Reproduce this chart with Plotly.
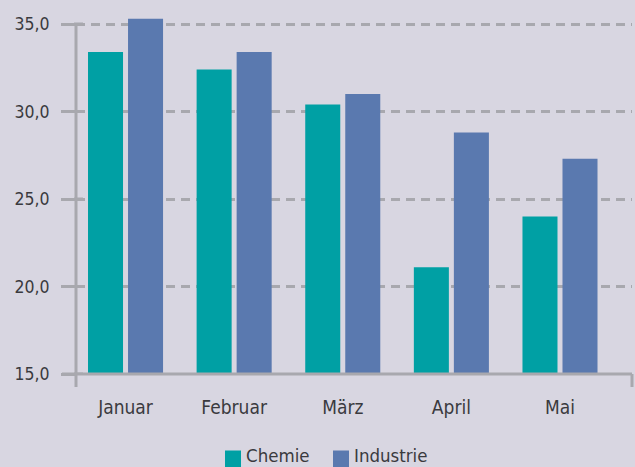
import plotly.graph_objects as go

months = ["Januar", "Februar", "März", "April", "Mai"]
chemie = [33.4, 32.4, 30.4, 21.1, 24.0]
industrie = [35.3, 33.4, 31.0, 28.8, 27.3]
y_ticks = [15, 20, 25, 30, 35]
series_names = ["Chemie", "Industrie"]
series_colors = ["rgb(0,160,164)", "rgb(90,121,175)"]

BG = "rgb(216,214,225)"
GRID = "rgb(168,168,174)"
TEXT = "rgb(58,58,62)"
FONT = "DejaVu Sans Condensed, DejaVu Sans, sans-serif"

PW, PH = 556, 357  # plot area size in px

fig = go.Figure()
for name, vals, col in zip(series_names, [chemie, industrie], series_colors):
    fig.add_trace(go.Bar(name=name, x=months, y=vals, marker_color=col,
                         marker_line_width=0))

fig.update_layout(
    width=635, height=467,
    margin=dict(l=76, r=3, t=17, b=93),
    paper_bgcolor=BG, plot_bgcolor=BG,
    separators=",.",
    barmode="group", bargap=0.263, bargroupgap=0.125,
    font=dict(family=FONT, size=18, color=TEXT),
    showlegend=False,
    xaxis=dict(range=[-0.456, 4.663], showgrid=False, showline=False, zeroline=False,
               ticks="outside", ticklen=16, tickcolor="rgba(0,0,0,0)",
               tickfont=dict(size=19, color=TEXT)),
    yaxis=dict(range=[15, 35.4], tickvals=y_ticks, tickformat=".1f",
               showgrid=True, gridcolor=GRID, gridwidth=3, griddash="9px,6px",
               zeroline=False, showline=False,
               ticks="outside", ticklen=14, tickwidth=3, tickcolor=GRID,
               ticklabelstandoff=8,
               tickfont=dict(size=17.5, color=TEXT)),
)

# axis lines
ext = 13 / PH
fig.add_shape(type="line", xref="paper", yref="y", x0=0, x1=0, y0=35, y1=15,
              line=dict(color=GRID, width=3), layer="above")
fig.add_shape(type="line", xref="paper", yref="paper", x0=0, x1=0, y0=0, y1=-ext,
              line=dict(color=GRID, width=3), layer="above")
fig.add_shape(type="line", xref="paper", yref="paper", x0=-14 / PW, x1=1, y0=0, y1=0,
              line=dict(color=GRID, width=3), layer="above")
fig.add_shape(type="line", xref="paper", yref="paper", x0=1, x1=1, y0=0, y1=-ext,
              line=dict(color=GRID, width=3), layer="above")
# tick stubs crossing the axis
for v in y_ticks:
    fig.add_shape(type="line", xref="paper", yref="y", x0=-2 / PW, x1=7 / PW, y0=v, y1=v,
                  line=dict(color=GRID, width=3), layer="above")

# legend (manual, bottom)
leg_x = [225, 333]
for name, col, lx in zip(series_names, series_colors, leg_x):
    fig.add_shape(type="rect", xref="paper", yref="paper",
                  x0=(lx - 76) / PW, x1=(lx + 16 - 76) / PW,
                  y0=(374 - 450.5) / PH, y1=(374 - 470) / PH,
                  fillcolor=col, line_width=0)
    fig.add_annotation(text=name, xref="paper", yref="paper",
                       x=(lx + 19 - 76) / PW, y=(374 - 455) / PH,
                       xanchor="left", yanchor="middle", showarrow=False,
                       font=dict(size=18.5, color=TEXT))

fig.write_html("out.html", config={"displayModeBar": False},
               post_script="document.body.style.margin='0';document.body.style.background='rgb(216,214,225)';")
